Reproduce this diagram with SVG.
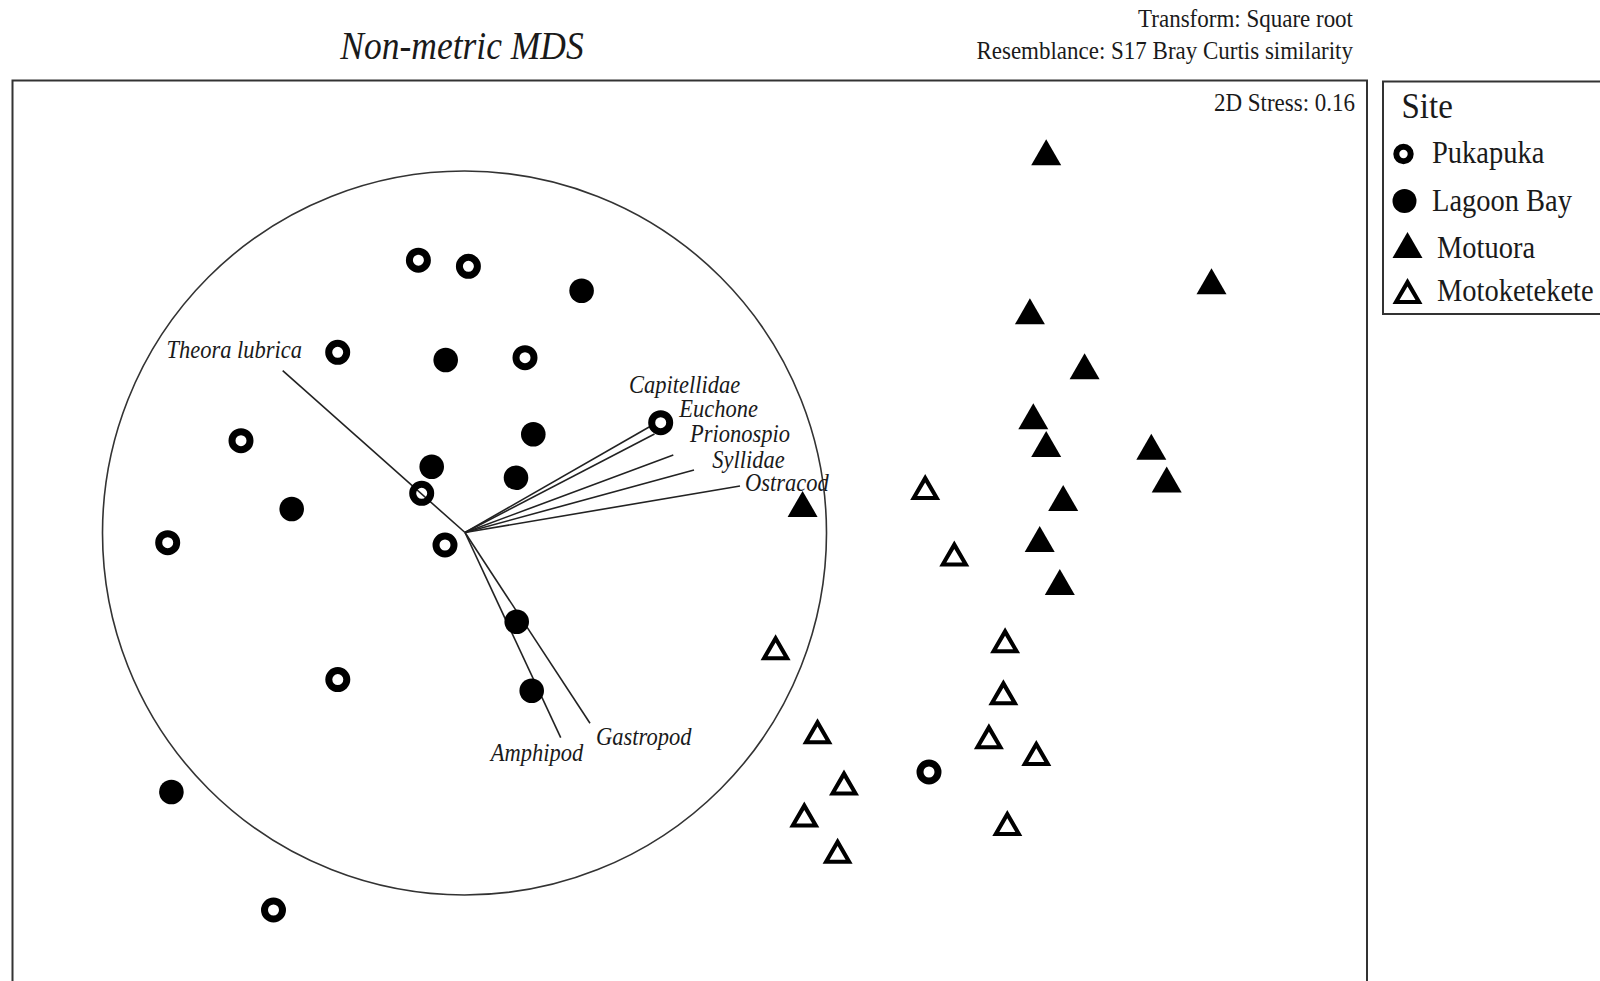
<svg xmlns="http://www.w3.org/2000/svg" xmlns:xlink="http://www.w3.org/1999/xlink" width="1600" height="981" viewBox="0 0 1600 981">
<style>
text{font-family:"Liberation Serif","Times New Roman",serif;fill:#1a1a1a}
.it{font-style:italic;font-size:22.5px}
.hd{font-size:23px}
.lg{font-size:28.5px}
.ring{fill:none;stroke:#000;stroke-width:7}
.dot{fill:#000}
.vec{stroke:#222;stroke-width:1.6;fill:none}
.frame{fill:none;stroke:#333;stroke-width:2}
</style>
<defs>
<path id="tf" d="M0,-13 L15,13 L-15,13 Z" fill="#000"/>
<path id="to" d="M0,-13 L15,13 L-15,13 Z M0,-4.6 L-8,9 L8,9 Z" fill="#000" fill-rule="evenodd"/>
</defs>
<rect width="1600" height="981" fill="#fff"/>

<g id="title">
<text class="it" style="font-size:35.5px" text-anchor="middle" transform="translate(462,59) scale(1,1.1)">Non-metric MDS</text>
<text class="hd" text-anchor="end" transform="translate(1353,27) scale(1,1.1)">Transform: Square root</text>
<text class="hd" text-anchor="end" transform="translate(1353,59) scale(1,1.1)">Resemblance: S17 Bray Curtis similarity</text>
</g>

<g id="plot-frame">
<path class="frame" d="M12.5,990 L12.5,80.5 L1367,80.5 L1367,990"/>
<text class="hd" text-anchor="end" transform="translate(1355,110.5) scale(1,1.1)">2D Stress: 0.16</text>
</g>

<g id="legend">
<path class="frame" d="M1605,81.5 L1383,81.5 L1383,314 L1605,314"/>
<text style="font-size:33px" transform="translate(1401.5,118) scale(1,1.1)">Site</text>
<circle class="ring" cx="1403.5" cy="154" r="7.2" style="stroke-width:6"/>
<text class="lg" transform="translate(1432,162.5) scale(1,1.1)">Pukapuka</text>
<circle class="dot" cx="1404.5" cy="201" r="12"/>
<text class="lg" transform="translate(1432,210.5) scale(1,1.1)">Lagoon Bay</text>
<use xlink:href="#tf" x="1407.5" y="245"/>
<text class="lg" transform="translate(1437,258) scale(1,1.1)">Motuora</text>
<use xlink:href="#to" x="1407.5" y="291"/>
<text class="lg" transform="translate(1437,301) scale(1,1.1)">Motoketekete</text>
</g>

<g id="correlation-circle">
<circle cx="464.5" cy="533" r="362" fill="none" stroke="#333" stroke-width="1.6"/>
</g>

<g id="vectors">
<line class="vec" x1="465" y1="532.5" x2="282.7" y2="370.7"/>
<line class="vec" x1="465" y1="532.5" x2="650" y2="426.5"/>
<line class="vec" x1="465" y1="532.5" x2="654.5" y2="434"/>
<line class="vec" x1="465" y1="532.5" x2="673.3" y2="455"/>
<line class="vec" x1="465" y1="532.5" x2="694" y2="470"/>
<line class="vec" x1="465" y1="532.5" x2="740" y2="486"/>
<line class="vec" x1="465" y1="532.5" x2="590" y2="723.3"/>
<line class="vec" x1="465" y1="532.5" x2="560.7" y2="737.7"/>
</g>

<g id="vector-labels">
<text class="it" transform="translate(166.5,358.3) scale(1,1.1)">Theora lubrica</text>
<text class="it" transform="translate(629,393.3) scale(1,1.1)">Capitellidae</text>
<text class="it" transform="translate(679.3,417.3) scale(1,1.1)">Euchone</text>
<text class="it" transform="translate(690,441.7) scale(1,1.1)">Prionospio</text>
<text class="it" transform="translate(712.3,468.3) scale(1,1.1)">Syllidae</text>
<text class="it" transform="translate(745,490.7) scale(1,1.1)">Ostracod</text>
<text class="it" transform="translate(596,745) scale(1,1.1)">Gastropod</text>
<text class="it" transform="translate(490.7,761) scale(1,1.1)">Amphipod</text>
</g>

<g id="site-pukapuka">
<circle class="ring" cx="418.4" cy="260.2" r="9"/>
<circle class="ring" cx="468.4" cy="266.3" r="9"/>
<circle class="ring" cx="337.7" cy="352.3" r="9"/>
<circle class="ring" cx="525" cy="357.7" r="9"/>
<circle class="ring" cx="241" cy="440.7" r="9"/>
<circle class="ring" cx="421.7" cy="493.3" r="9"/>
<circle class="ring" cx="167.7" cy="542.7" r="9"/>
<circle class="ring" cx="445" cy="545" r="9"/>
<circle class="ring" cx="660.7" cy="422.7" r="9"/>
<circle class="ring" cx="337.8" cy="679.6" r="9"/>
<circle class="ring" cx="929" cy="772" r="9"/>
<circle class="ring" cx="273.5" cy="910" r="9"/>
</g>

<g id="site-lagoon-bay">
<circle class="dot" cx="581.6" cy="290.8" r="12.3"/>
<circle class="dot" cx="445.7" cy="360" r="12.3"/>
<circle class="dot" cx="533.3" cy="434.3" r="12.3"/>
<circle class="dot" cx="431.7" cy="466.7" r="12.3"/>
<circle class="dot" cx="516" cy="477.7" r="12.3"/>
<circle class="dot" cx="291.7" cy="509" r="12.3"/>
<circle class="dot" cx="516.7" cy="621.7" r="12.3"/>
<circle class="dot" cx="531.7" cy="690.7" r="12.3"/>
<circle class="dot" cx="171.4" cy="792" r="12.3"/>
</g>

<g id="site-motuora">
<use xlink:href="#tf" x="1046.2" y="152.2"/>
<use xlink:href="#tf" x="1211.5" y="281.3"/>
<use xlink:href="#tf" x="1029.9" y="311.3"/>
<use xlink:href="#tf" x="1084.6" y="366.2"/>
<use xlink:href="#tf" x="1033.3" y="416.2"/>
<use xlink:href="#tf" x="1046.2" y="443.9"/>
<use xlink:href="#tf" x="1151.3" y="446.7"/>
<use xlink:href="#tf" x="1166.7" y="479.5"/>
<use xlink:href="#tf" x="802.6" y="503.9"/>
<use xlink:href="#tf" x="1063.2" y="497.9"/>
<use xlink:href="#tf" x="1039.7" y="539"/>
<use xlink:href="#tf" x="1059.8" y="582"/>
</g>

<g id="site-motoketekete">
<use xlink:href="#to" x="925.2" y="487"/>
<use xlink:href="#to" x="954.3" y="553.5"/>
<use xlink:href="#to" x="775.6" y="647.2"/>
<use xlink:href="#to" x="1005.1" y="640.3"/>
<use xlink:href="#to" x="1003.4" y="692.3"/>
<use xlink:href="#to" x="817.5" y="731.2"/>
<use xlink:href="#to" x="988.9" y="736.3"/>
<use xlink:href="#to" x="1036.3" y="752.9"/>
<use xlink:href="#to" x="844" y="782.5"/>
<use xlink:href="#to" x="804.3" y="814.5"/>
<use xlink:href="#to" x="1007.3" y="822.9"/>
<use xlink:href="#to" x="837.6" y="850.7"/>
</g>
</svg>
